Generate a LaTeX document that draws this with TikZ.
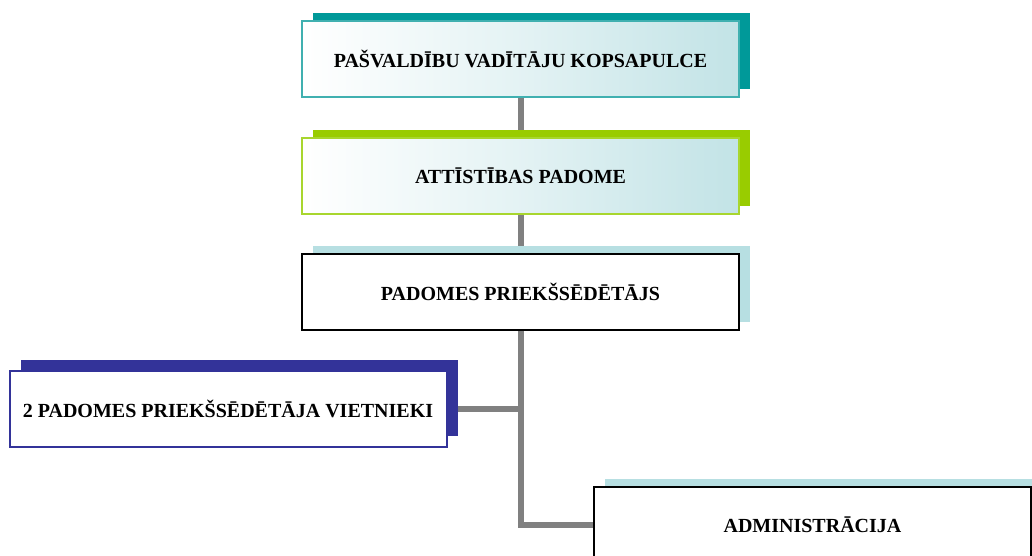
\documentclass[tikz,border=0pt]{standalone}
\usepackage{fontspec}
\setmainfont{Liberation Serif}
\usetikzlibrary{shadows,backgrounds}
\definecolor{tealsh}{HTML}{009999}
\definecolor{tealbd}{HTML}{40B0B0}
\definecolor{greensh}{HTML}{99CC00}
\definecolor{greenbd}{HTML}{A8D62E}
\definecolor{navy}{HTML}{333399}
\definecolor{lbluesh}{HTML}{B7DFE2}
\definecolor{gradblue}{HTML}{C2E3E6}
\definecolor{conngray}{HTML}{808080}
\tikzset{
  box/.style={rectangle, minimum width=437pt, minimum height=76pt, line width=2pt,
    font=\fontsize{20}{24}\selectfont\bfseries, inner sep=0pt, align=center},
  gradbox/.style={box, left color=white, right color=gradblue, middle color=white!55!gradblue},
  sh/.style={general shadow={fill=#1, shadow xshift=11pt, shadow yshift=8pt}},
  shb/.style={general shadow={fill=#1, shadow xshift=11pt, shadow yshift=11pt}},
  conn/.style={draw=conngray, line width=6pt}
}
\begin{document}
\begin{tikzpicture}[x=1pt,y=-1pt]
\useasboundingbox (0,0) rectangle (1032,556);
\clip (0,0) rectangle (1032,556);
\node[gradbox, draw=tealbd, sh=tealsh] (b1) at (520.5,59) {PAŠVALDĪBU VADĪTĀJU KOPSAPULCE};
\node[gradbox, draw=greenbd, sh=greensh] (b2) at (520.5,176) {ATTĪSTĪBAS PADOME};
\node[box, draw=black, fill=white, sh=lbluesh] (b3) at (520.5,292) {PADOMES PRIEKŠSĒDĒTĀJS};
\node[box, draw=navy, fill=white, shb=navy] (b4) at (228,409) {2 PADOMES PRIEKŠSĒDĒTĀJA VIETNIEKI};
\node[box, draw=black, fill=white, sh=lbluesh] (b5) at (812.5,525) {ADMINISTRĀCIJA};
\begin{scope}[on background layer]
\draw[conn] (b1.south) |- (b5.west);
\draw[conn] (b4.east) -- (b4.east -| b1.south);
\end{scope}
\end{tikzpicture}
\end{document}
